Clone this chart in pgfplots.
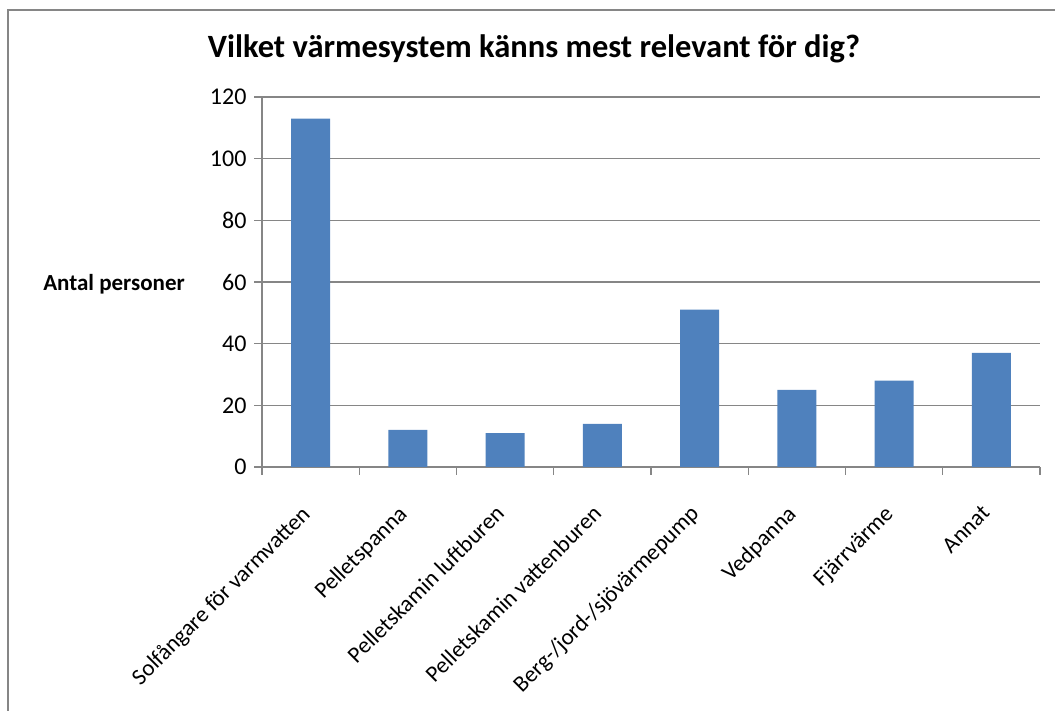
\documentclass[border=0pt]{standalone}
\usepackage{pgfplots}
\usepackage{fontspec}
\setmainfont{Carlito}
\pgfplotsset{compat=1.18}
\definecolor{barblue}{HTML}{4F81BD}
\definecolor{framegray}{HTML}{868686}

\begin{document}
\begin{tikzpicture}[x=1pt,y=1pt]
\useasboundingbox (0,0) rectangle (1055,711);
\draw[framegray, line width=2pt] (8,0) -- (8,701) -- (1055,701);
\node[font=\fontsize{32.5}{38}\selectfont\bfseries] at (534,662) {Vilket värmesystem känns mest relevant för dig?};
\node[font=\fontsize{23}{27}\selectfont\bfseries] at (114,427) {Antal personer};
\begin{axis}[
  at={(262pt,244pt)}, anchor=south west,
  scale only axis,
  width=778pt, height=370pt,
  ymin=0, ymax=120,
  ytick={0,20,...,120},
  xmin=-0.5, xmax=7.5,
  xtick={0,...,7},
  xticklabels={Solfångare för varmvatten,Pelletspanna,Pelletskamin luftburen,Pelletskamin vattenburen,Berg-/jord-/sjövärmepump,Vedpanna,Fjärrvärme,Annat},
  major x tick style={draw=none},
  minor xtick={-0.5,0.5,...,7.5},
  tick align=outside,
  major tick length=8pt,
  minor tick length=8pt,
  tick style={framegray, line width=1.2pt},
  axis x line*=bottom,
  axis y line*=left,
  axis line style={framegray, line width=1.2pt, -},
  ymajorgrids=true,
  grid style={framegray, line width=1.2pt},
  xticklabel style={xshift=-11pt, yshift=-24pt, rotate=45, anchor=north east, font=\fontsize{23}{27}\selectfont},
  yticklabel style={font=\fontsize{24}{28}\selectfont, xshift=-4pt},
  /pgf/number format/assume math mode=true,
  ybar, bar width=39pt,
  clip=false,
]
\addplot[fill=barblue, draw=none] coordinates {
  (0,113) (1,12) (2,11) (3,14) (4,51) (5,25) (6,28) (7,37)
};
\end{axis}
\end{tikzpicture}
\end{document}
